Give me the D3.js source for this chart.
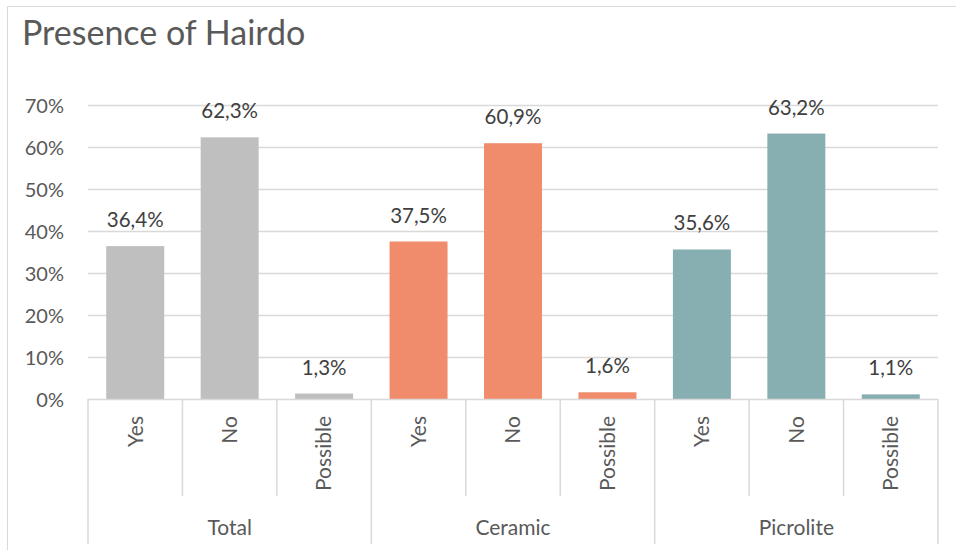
<!DOCTYPE html>
<html>
<head>
<meta charset="utf-8">
<script src="https://cdn.jsdelivr.net/npm/d3@7"></script>
<style>
  body { margin: 0; background: #fff; }
  text { font-family: Lato, "Noto Sans", sans-serif; }
</style>
</head>
<body>
<script>
// chart values
var groups = ["Total", "Ceramic", "Picrolite"];
var answers = ["Yes", "No", "Possible"];
var totalValues = [36.4, 62.3, 1.3];
var ceramicValues = [37.5, 60.9, 1.6];
var picroliteValues = [35.6, 63.2, 1.1];
var yTicks = [0, 10, 20, 30, 40, 50, 60, 70];
var colors = ["#BFBFBF", "#F08B6C", "#87AFB2"];

var w = 956;
var h = 550;
var plotLeft = 88, plotRight = 938, plotTop = 105, plotBottom = 399;

var rows = [];
[totalValues, ceramicValues, picroliteValues].forEach(function(vals, gi) {
  vals.forEach(function(v, ai) {
    rows.push({group: groups[gi], answer: answers[ai], value: v, color: colors[gi]});
  });
});

var comma = d3.formatLocale({decimal: ",", thousands: ".", grouping: [3], currency: ["", ""]});
var labelFormat = function(v) { return comma.format(".1f")(v) + "%"; };

var svg = d3.select("body")
  .append("svg")
  .attr("width", w)
  .attr("height", h);

// chart frame
svg.append("rect")
  .attr("x", 7.5).attr("y", 6.5)
  .attr("width", w).attr("height", h)
  .attr("fill", "none")
  .attr("stroke", "#D9D9D9");

svg.append("text")
  .attr("x", 22).attr("y", 45)
  .attr("font-size", 34)
  .attr("fill", "#595959")
  .text("Presence of Hairdo");

var x_group = d3.scaleBand()
  .domain(groups)
  .range([plotLeft, plotRight]);

var x_item = d3.scaleBand()
  .domain(answers)
  .range([0, x_group.bandwidth()])
  .paddingInner(0.386)
  .paddingOuter(0.193);

var y_scale = d3.scaleLinear()
  .domain([0, 70])
  .range([plotBottom, plotTop]);

// gridlines
svg.append("g")
  .selectAll("line")
  .data(yTicks.filter(function(d) { return d > 0; }))
  .enter()
  .append("line")
  .attr("x1", plotLeft).attr("x2", plotRight)
  .attr("y1", function(d) { return Math.round(y_scale(d)) + 0.5; })
  .attr("y2", function(d) { return Math.round(y_scale(d)) + 0.5; })
  .attr("stroke", "#D9D9D9")
  .attr("stroke-width", 1.5);

// y axis labels
var y_axis = d3.axisLeft(y_scale)
  .tickValues(yTicks)
  .tickSize(0)
  .tickPadding(0)
  .tickFormat(function(d) { return d + "%"; });

var gy = svg.append("g")
  .attr("transform", "translate(64,0)")
  .call(y_axis);
gy.select(".domain").remove();
gy.selectAll("text")
  .attr("font-size", 20)
  .attr("font-family", "Lato, 'Noto Sans', sans-serif")
  .attr("fill", "#595959")
  .attr("dy", "0.35em");

// bars
svg.append("g")
  .selectAll("rect")
  .data(rows)
  .enter()
  .append("rect")
  .attr("x", function(d) { return x_group(d.group) + x_item(d.answer); })
  .attr("y", function(d) { return y_scale(d.value); })
  .attr("width", x_item.bandwidth())
  .attr("height", function(d) { return plotBottom - y_scale(d.value); })
  .attr("fill", function(d) { return d.color; });

// data labels
svg.append("g")
  .selectAll("text")
  .data(rows)
  .enter()
  .append("text")
  .attr("x", function(d) { return x_group(d.group) + x_item(d.answer) + x_item.bandwidth() / 2; })
  .attr("y", function(d) { return y_scale(d.value) - 19; })
  .attr("text-anchor", "middle")
  .attr("font-size", 20.5)
  .attr("fill", "#404040")
  .text(function(d) { return labelFormat(d.value); });

// category axis
var axis = svg.append("g");
axis.append("line")
  .attr("x1", plotLeft).attr("x2", plotRight)
  .attr("y1", plotBottom + 0.5).attr("y2", plotBottom + 0.5)
  .attr("stroke", "#D9D9D9")
  .attr("stroke-width", 1.5);

var step = x_group.bandwidth() / answers.length;
groups.forEach(function(g) {
  var gx = x_group(g);
  answers.forEach(function(a, i) {
    if (i > 0) {
      axis.append("line")
        .attr("x1", gx + i * step).attr("x2", gx + i * step)
        .attr("y1", plotBottom).attr("y2", 496)
        .attr("stroke", "#D9D9D9")
        .attr("stroke-width", 1.5);
    }
    axis.append("text")
      .attr("transform", "translate(" + (gx + x_item(a) + x_item.bandwidth() / 2) + ",416) rotate(-90)")
      .attr("text-anchor", "end")
      .attr("dy", "0.35em")
      .attr("font-size", 21)
      .attr("fill", "#595959")
      .text(a);
  });
  axis.append("text")
    .attr("x", gx + x_group.bandwidth() / 2)
    .attr("y", 535)
    .attr("text-anchor", "middle")
    .attr("font-size", 21)
    .attr("fill", "#595959")
    .text(g);
});

// group boundaries
axis.selectAll(".gsep")
  .data(groups.map(function(g) { return x_group(g); }).concat([plotRight]))
  .enter()
  .append("line")
  .attr("x1", function(d) { return d; }).attr("x2", function(d) { return d; })
  .attr("y1", plotBottom).attr("y2", 544)
  .attr("stroke", "#D9D9D9")
  .attr("stroke-width", 1.5);
</script>
</body>
</html>
